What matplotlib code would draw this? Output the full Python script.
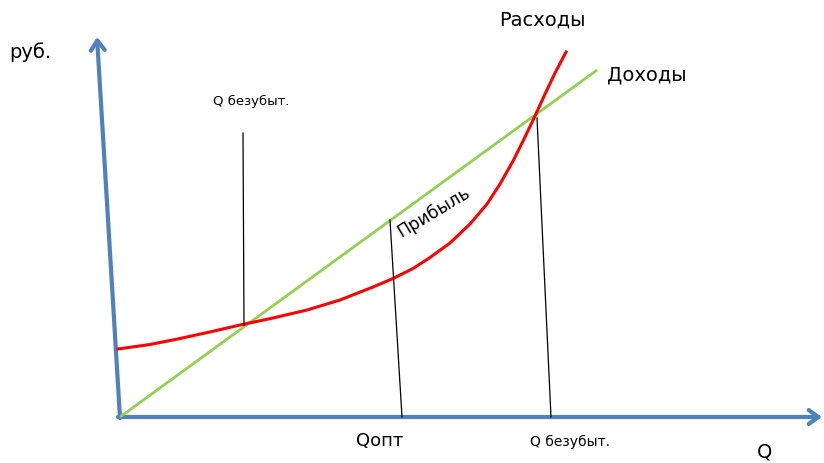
import matplotlib.pyplot as plt
from matplotlib.patches import FancyArrowPatch

# diagram drawn in picture coordinates (x right, y down), 824 x 463
costX = [118, 150, 180, 212, 240, 273, 307, 340, 373, 393, 413, 430, 450, 470, 487,
         500, 513, 524, 535, 545, 555, 566]
costY = [349, 344.5, 338.5, 331.5, 325, 318, 310, 300, 287, 278.5, 268.5, 257.5, 243, 224, 204,
         184, 161, 139, 116, 94, 73, 52]

revenueX = [120, 597]
revenueY = [417, 70]

# the three black guide lines: (x top, y top, x bottom, y bottom)
guideTop = [(243, 133), (390, 220), (537, 118)]
guideBottom = [(244, 325), (402, 417), (551, 417)]

blue = "#4f81bd"
green = "#92d050"
red = "#ff0000"

fig = plt.figure(figsize=(8.24, 4.63), dpi=100)
ax = fig.add_axes([0, 0, 1, 1])
ax.set_xlim(0, 824)
ax.set_ylim(463, 0)
ax.axis("off")

# axes with arrows
for start, end in [((120, 418), (97, 37)), ((118, 417), (822, 417))]:
    ax.add_patch(FancyArrowPatch(start, end, arrowstyle="->,head_length=7,head_width=5",
                                 color=blue, lw=3, mutation_scale=1, shrinkA=0, shrinkB=0))

ax.plot(revenueX, revenueY, color=green, lw=2, solid_capstyle="butt")
ax.plot(costX, costY, color=red, lw=2.2, solid_joinstyle="round")

for (x0, y0), (x1, y1) in zip(guideTop, guideBottom):
    ax.plot([x0, x1], [y0, y1], color="black", lw=0.9)

ax.text(30, 52, "руб.", fontsize=14, ha="center", va="center")
ax.text(251, 101, "Q безубыт.", fontsize=9.5, ha="center", va="center")
ax.text(542, 20, "Расходы", fontsize=14, ha="center", va="center")
ax.text(647, 75, "Доходы", fontsize=14, ha="center", va="center")
ax.text(434, 212, "Прибыль", fontsize=12.5, ha="center", va="center", rotation=31,
        rotation_mode="anchor")
ax.text(380, 441, "Qопт", fontsize=13, ha="center", va="center")
ax.text(570, 442, "Q безубыт.", fontsize=10, ha="center", va="center")
ax.text(765, 452, "Q", fontsize=14, ha="center", va="center")

fig.savefig("out.png", dpi=100)
